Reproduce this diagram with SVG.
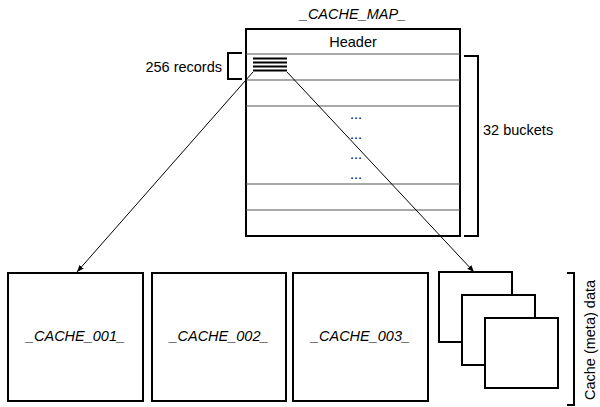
<svg xmlns="http://www.w3.org/2000/svg" width="600" height="407" viewBox="0 0 600 407">
<defs>
<style>
text{font-family:"Liberation Sans",Arial,sans-serif;font-size:14.5px;fill:#000}
.it{font-style:italic}
.box{fill:#fff;stroke:#000;stroke-width:2}
.row{stroke:#555;stroke-width:1.2;fill:none}
.br{fill:none;stroke:#000;stroke-width:2}
.rec{stroke:#000;stroke-width:2}
.conn{stroke:#000;stroke-width:1;fill:none;marker-end:url(#ah)}
</style>
<marker id="ah" viewBox="0 0 10 10" refX="10" refY="5" markerWidth="7" markerHeight="7" orient="auto" markerUnits="userSpaceOnUse">
<path d="M0,1 L10,5 L0,9 z" fill="#000"/>
</marker>
</defs>
<rect width="600" height="407" fill="#fff"/>
<g id="cache_map">
<text class="it" x="353" y="19" text-anchor="middle">_CACHE_MAP_</text>
<rect class="box" x="246" y="29" width="214" height="207"/>
<line class="row" x1="246" y1="54" x2="460" y2="54"/>
<line class="row" x1="246" y1="80" x2="460" y2="80"/>
<line class="row" x1="246" y1="106" x2="460" y2="106"/>
<line class="row" x1="246" y1="184" x2="460" y2="184"/>
<line class="row" x1="246" y1="210" x2="460" y2="210"/>
<text x="353" y="47" text-anchor="middle">Header</text>
<text x="356" y="119" text-anchor="middle" font-size="11" fill="#333">...</text>
<text x="356" y="139" text-anchor="middle" font-size="11" fill="#333">...</text>
<text x="356" y="159" text-anchor="middle" font-size="11" fill="#333">...</text>
<text x="356" y="179" text-anchor="middle" font-size="11" fill="#333">...</text>
<line class="rec" x1="253" y1="58.5" x2="287" y2="58.5"/>
<line class="rec" x1="253" y1="62.5" x2="287" y2="62.5"/>
<line class="rec" x1="253" y1="66.5" x2="287" y2="66.5"/>
<line class="rec" x1="253" y1="70.5" x2="287" y2="70.5"/>
</g>
<g id="records_label">
<path class="br" d="M242,53 H228 V79 H242"/>
<text x="222" y="72" text-anchor="end">256 records</text>
</g>
<g id="buckets_label">
<path class="br" d="M464,56 H478 V236 H464"/>
<text x="483" y="135">32 buckets</text>
</g>
<g id="cache_001">
<rect class="box" x="8" y="273" width="135" height="128"/>
<text class="it" x="75.5" y="341" text-anchor="middle">_CACHE_001_</text>
</g>
<g id="cache_002">
<rect class="box" x="152" y="273" width="134" height="128"/>
<text class="it" x="219" y="341" text-anchor="middle">_CACHE_002_</text>
</g>
<g id="cache_003">
<rect class="box" x="293" y="273" width="135" height="128"/>
<text class="it" x="360.5" y="341" text-anchor="middle">_CACHE_003_</text>
</g>
<g id="cache_stack">
<rect class="box" x="439" y="272" width="73" height="70"/>
<rect class="box" x="462" y="295" width="73" height="70"/>
<rect class="box" x="485" y="318" width="73" height="70"/>
</g>
<g id="data_label">
<path class="br" d="M567,273 H574 V405 H567"/>
<text transform="translate(595,340) rotate(-90)" text-anchor="middle">Cache (meta) data</text>
</g>
<g id="connectors">
<line class="conn" x1="253" y1="72" x2="77" y2="272"/>
<line class="conn" x1="287" y1="72" x2="474" y2="272"/>
</g>
</svg>
